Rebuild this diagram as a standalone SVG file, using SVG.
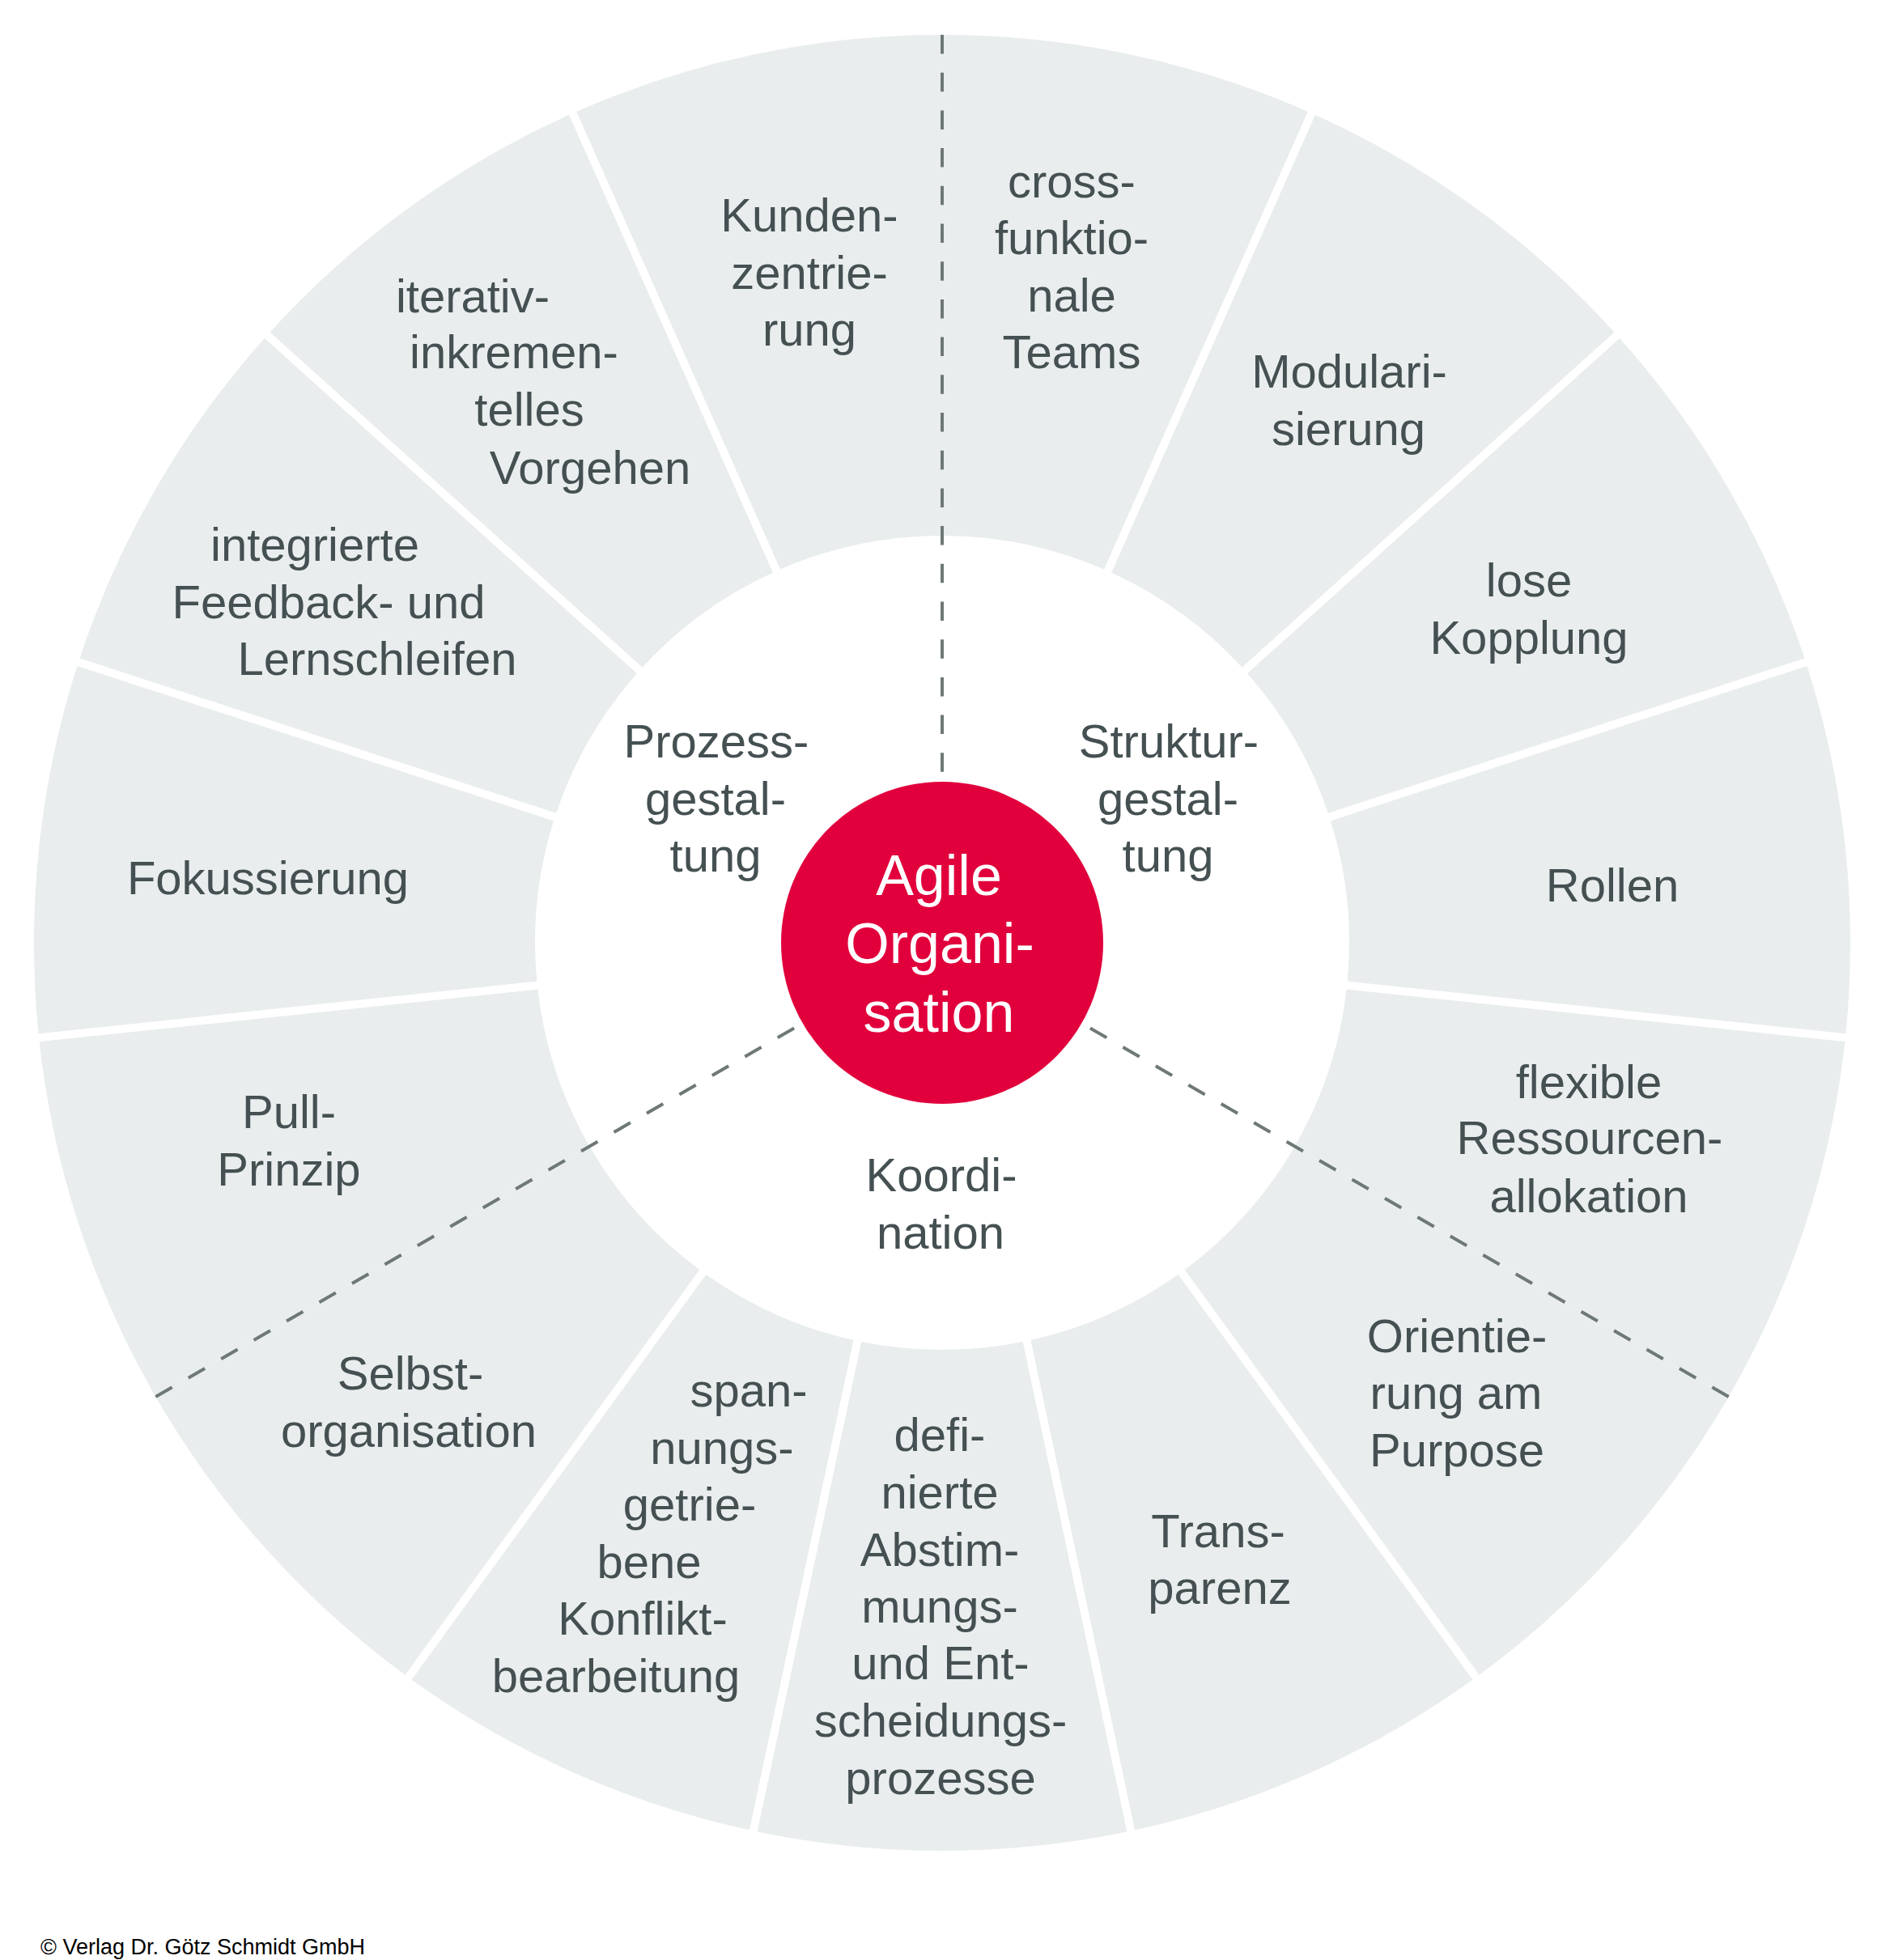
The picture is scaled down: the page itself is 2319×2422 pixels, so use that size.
<svg xmlns="http://www.w3.org/2000/svg" width="2319" height="2422" viewBox="0 0 2319 2422">
<style>
.seg{fill:#e9eded}
.t{font-family:"Liberation Sans",Arial,sans-serif;font-size:58px;fill:#455052;text-anchor:middle}
.c{font-family:"Liberation Sans",Arial,sans-serif;font-size:70px;fill:#ffffff;text-anchor:middle}
.sep{stroke:#ffffff;stroke-width:10;fill:none}
.dash{stroke:#6e7877;stroke-width:4;stroke-dasharray:23.5 23.2;fill:none}
</style>
<rect width="2319" height="2422" fill="#ffffff"/>
<g id="segments">
<g id="seg-crossfunktionale-teams">
<path class="seg" d="M1164,43 A1122,1122 0 0 1 1620.4,140 L1368.6,705.5 A503,503 0 0 0 1164,662 Z"/>
<text class="t" x="1324"><tspan x="1324" y="244">cross-</tspan><tspan x="1324" y="314">funktio-</tspan><tspan x="1324" y="385">nale</tspan><tspan x="1324" y="455">Teams</tspan></text>
</g>
<g id="seg-modularisierung">
<path class="seg" d="M1620.4,140 A1122,1122 0 0 1 1997.8,414.2 L1537.8,828.4 A503,503 0 0 0 1368.6,705.5 Z"/>
<text class="t"><tspan x="1667" y="479">Modulari-</tspan><tspan x="1666" y="550">sierung</tspan></text>
</g>
<g id="seg-lose-kopplung">
<path class="seg" d="M1997.8,414.2 A1122,1122 0 0 1 2231.1,818.3 L1642.4,1009.6 A503,503 0 0 0 1537.8,828.4 Z"/>
<text class="t"><tspan x="1889" y="737">lose</tspan><tspan x="1889" y="808">Kopplung</tspan></text>
</g>
<g id="seg-rollen">
<path class="seg" d="M2231.1,818.3 A1122,1122 0 0 1 2279.9,1282.3 L1664.2,1217.6 A503,503 0 0 0 1642.4,1009.6 Z"/>
<text class="t" x="1992" y="1114">Rollen</text>
</g>
<g id="seg-flexible-ressourcenallokation">
<path class="seg" d="M2279.9,1282.3 A1122,1122 0 0 1 2135.7,1726 L1599.6,1416.5 A503,503 0 0 0 1664.2,1217.6 Z"/>
<text class="t"><tspan x="1963" y="1357">flexible</tspan><tspan x="1964" y="1426">Ressourcen-</tspan><tspan x="1963" y="1498">allokation</tspan></text>
</g>
<g id="seg-orientierung-purpose">
<path class="seg" d="M2135.7,1726 A1122,1122 0 0 1 1823.5,2072.7 L1459.7,1571.9 A503,503 0 0 0 1599.6,1416.5 Z"/>
<text class="t"><tspan x="1800" y="1671">Orientie-</tspan><tspan x="1799" y="1741">rung am</tspan><tspan x="1800" y="1812">Purpose</tspan></text>
</g>
<g id="seg-transparenz">
<path class="seg" d="M1823.5,2072.7 A1122,1122 0 0 1 1397.3,2262.5 L1268.6,1657 A503,503 0 0 0 1459.7,1571.9 Z"/>
<text class="t"><tspan x="1505" y="1912">Trans-</tspan><tspan x="1507" y="1982">parenz</tspan></text>
</g>
<g id="seg-definierte-prozesse">
<path class="seg" d="M1397.3,2262.5 A1122,1122 0 0 1 930.7,2262.5 L1059.4,1657 A503,503 0 0 0 1268.6,1657 Z"/>
<text class="t"><tspan x="1161" y="1793">defi-</tspan><tspan x="1161" y="1864">nierte</tspan><tspan x="1161" y="1935">Abstim-</tspan><tspan x="1161" y="2005">mungs-</tspan><tspan x="1162" y="2075">und Ent-</tspan><tspan x="1162" y="2146">scheidungs-</tspan><tspan x="1162" y="2217">prozesse</tspan></text>
</g>
<g id="seg-spannungsgetriebene-konfliktbearbeitung">
<path class="seg" d="M930.7,2262.5 A1122,1122 0 0 1 504.5,2072.7 L868.3,1571.9 A503,503 0 0 0 1059.4,1657 Z"/>
<text class="t"><tspan x="925" y="1738">span-</tspan><tspan x="892" y="1809">nungs-</tspan><tspan x="852" y="1879">getrie-</tspan><tspan x="802" y="1950">bene</tspan><tspan x="794" y="2020">Konflikt-</tspan><tspan x="761" y="2091">bearbeitung</tspan></text>
</g>
<g id="seg-selbstorganisation">
<path class="seg" d="M504.5,2072.7 A1122,1122 0 0 1 192.3,1726 L728.4,1416.5 A503,503 0 0 0 868.3,1571.9 Z"/>
<text class="t"><tspan x="507" y="1717">Selbst-</tspan><tspan x="505" y="1788">organisation</tspan></text>
</g>
<g id="seg-pull-prinzip">
<path class="seg" d="M192.3,1726 A1122,1122 0 0 1 48.1,1282.3 L663.8,1217.6 A503,503 0 0 0 728.4,1416.5 Z"/>
<text class="t"><tspan x="357" y="1394">Pull-</tspan><tspan x="357" y="1465">Prinzip</tspan></text>
</g>
<g id="seg-fokussierung">
<path class="seg" d="M48.1,1282.3 A1122,1122 0 0 1 96.9,818.3 L685.6,1009.6 A503,503 0 0 0 663.8,1217.6 Z"/>
<text class="t" x="331" y="1105">Fokussierung</text>
</g>
<g id="seg-integrierte-feedback">
<path class="seg" d="M96.9,818.3 A1122,1122 0 0 1 330.2,414.2 L790.2,828.4 A503,503 0 0 0 685.6,1009.6 Z"/>
<text class="t"><tspan x="389" y="693">integrierte</tspan><tspan x="406" y="764">Feedback- und</tspan><tspan x="466" y="834">Lernschleifen</tspan></text>
</g>
<g id="seg-iterativ-inkrementelles-vorgehen">
<path class="seg" d="M330.2,414.2 A1122,1122 0 0 1 707.6,140 L959.4,705.5 A503,503 0 0 0 790.2,828.4 Z"/>
<text class="t"><tspan x="584" y="386">iterativ-</tspan><tspan x="635" y="455">inkremen-</tspan><tspan x="654" y="526">telles</tspan><tspan x="729" y="598">Vorgehen</tspan></text>
</g>
<g id="seg-kundenzentrierung">
<path class="seg" d="M707.6,140 A1122,1122 0 0 1 1164,43 L1164,662 A503,503 0 0 0 959.4,705.5 Z"/>
<text class="t"><tspan x="1000" y="286">Kunden-</tspan><tspan x="1000" y="357">zentrie-</tspan><tspan x="1000" y="427">rung</tspan></text>
</g>
</g>
<g id="separators">
<line class="sep" x1="1363.3" y1="717.4" x2="1623.6" y2="132.7"/>
<line class="sep" x1="1528.1" y1="837.1" x2="2003.8" y2="408.9"/>
<line class="sep" x1="1630" y1="1013.6" x2="2238.7" y2="815.8"/>
<line class="sep" x1="1651.3" y1="1216.2" x2="2287.8" y2="1283.1"/>
<line class="sep" x1="1452" y1="1561.4" x2="1828.2" y2="2079.2"/>
<line class="sep" x1="1265.9" y1="1644.3" x2="1398.9" y2="2270.3"/>
<line class="sep" x1="1062.1" y1="1644.3" x2="929.1" y2="2270.3"/>
<line class="sep" x1="876" y1="1561.4" x2="499.8" y2="2079.2"/>
<line class="sep" x1="676.7" y1="1216.2" x2="40.2" y2="1283.1"/>
<line class="sep" x1="698" y1="1013.6" x2="89.3" y2="815.8"/>
<line class="sep" x1="799.9" y1="837.1" x2="324.2" y2="408.9"/>
<line class="sep" x1="964.7" y1="717.4" x2="704.4" y2="132.7"/>
</g>
<g id="connectors">
<line class="dash" x1="1164" y1="43" x2="1164" y2="1165"/>
<line class="dash" x1="2135.7" y1="1726" x2="1164" y2="1165"/>
<line class="dash" x1="192.3" y1="1726" x2="1164" y2="1165"/>
</g>
<g id="area-prozessgestaltung">
<text class="t"><tspan x="885" y="936">Prozess-</tspan><tspan x="884" y="1007">gestal-</tspan><tspan x="884" y="1077">tung</tspan></text>
</g>
<g id="area-strukturgestaltung">
<text class="t"><tspan x="1444" y="936">Struktur-</tspan><tspan x="1443" y="1007">gestal-</tspan><tspan x="1443" y="1077">tung</tspan></text>
</g>
<g id="area-koordination">
<text class="t"><tspan x="1163" y="1472">Koordi-</tspan><tspan x="1162" y="1543">nation</tspan></text>
</g>
<g id="center-agile-organisation">
<circle cx="1164" cy="1165" r="199" fill="#e1003c"/>
<text class="c"><tspan x="1160" y="1106">Agile</tspan><tspan x="1161" y="1190">Organi-</tspan><tspan x="1160" y="1275">sation</tspan></text>
</g>
<text x="50" y="2415" font-family="Liberation Sans, Arial, sans-serif" font-size="27" fill="#000000">© Verlag Dr. Götz Schmidt GmbH</text>
</svg>
